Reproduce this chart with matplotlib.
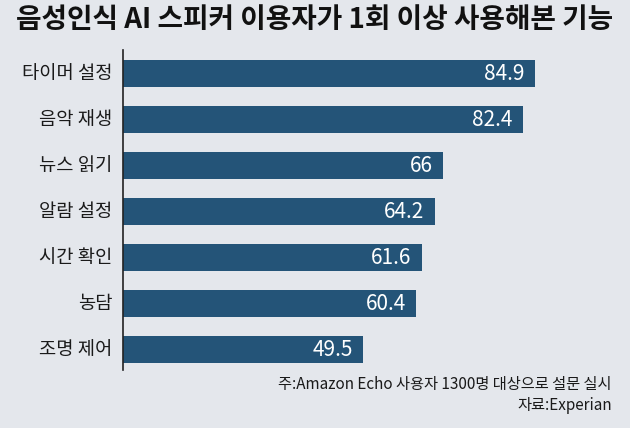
import matplotlib.pyplot as plt

plt.rcParams['font.family'] = ['Noto Sans CJK KR', 'DejaVu Sans']

features = ["타이머 설정", "음악 재생", "뉴스 읽기", "알람 설정", "시간 확인", "농담", "조명 제어"]
values = [84.9, 82.4, 66, 64.2, 61.6, 60.4, 49.5]
value_labels = ["84.9", "82.4", "66", "64.2", "61.6", "60.4", "49.5"]

bg = "#e4e7ec"
bar_color = "#245478"

fig = plt.figure(figsize=(6.3, 4.28), dpi=100, facecolor=bg)
ax = fig.add_axes([123 / 630, 58 / 428, 492 / 630, 320 / 428])
ax.set_facecolor(bg)

pos = list(range(len(features)))
ax.barh(pos, values, height=0.59, color=bar_color)
ax.set_xlim(0, 101.4)
ax.set_ylim(6.44, -0.52)

for p, v, t in zip(pos, values, value_labels):
    ax.text(v - 2.1, p, t, color="white", fontsize=15, fontweight="medium",
            ha="right", va="center")

for p, name in zip(pos, features):
    ax.text(-2.2, p, name, color="#1a1a1a", fontsize=13.5, fontweight="medium",
            ha="right", va="center")

for s in ["top", "right", "bottom"]:
    ax.spines[s].set_visible(False)
ax.spines["left"].set_color("#222222")
ax.spines["left"].set_linewidth(1.2)
ax.set_xticks([])
ax.set_yticks([])

fig.text(0.5, 1 - 20 / 428, "음성인식 AI 스피커 이용자가 1회 이상 사용해본 기능",
         fontsize=20, fontweight="bold", ha="center", va="center", color="#111111")
fig.text(612 / 630, 1 - 384 / 428, "주:Amazon Echo 사용자 1300명 대상으로 설문 실시",
         fontsize=11, ha="right", va="center", color="#1a1a1a")
fig.text(612 / 630, 1 - 405 / 428, "자료:Experian",
         fontsize=11, ha="right", va="center", color="#1a1a1a")

fig.savefig("out.png", dpi=100, facecolor=bg)
